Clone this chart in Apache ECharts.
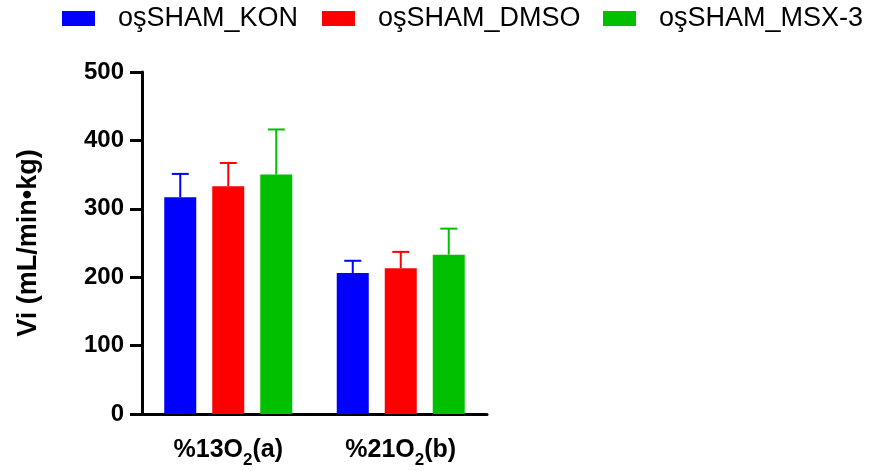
<!DOCTYPE html>
<html>
<head>
<meta charset="utf-8">
<script src="https://cdn.jsdelivr.net/npm/echarts@6/dist/echarts.min.js"></script>
<style>
html, body { margin: 0; padding: 0; background: #fff; }
#main { width: 872px; height: 471px; }
</style>
</head>
<body>
<div id="main"></div>
<script>
var categories = ['%13O2(a)', '%21O2(b)'];
var seriesNames = ['oşSHAM_KON', 'oşSHAM_DMSO', 'oşSHAM_MSX-3'];
var konMean = [317, 206];
var konErr = [34, 18];
var dmsoMean = [333, 213];
var dmsoErr = [34, 24];
var msxMean = [350, 233];
var msxErr = [66, 38];
var yTicks = [0, 100, 200, 300, 400, 500];

var colors = ['#0000ff', '#ff0000', '#00c000'];
var means = [konMean, dmsoMean, msxMean];
var errs = [konErr, dmsoErr, msxErr];
var font = 'Liberation Sans';

var chart = echarts.init(document.getElementById('main'));

// error bar (upper only), shifted to sit on its bar
function errorRender(k) {
	return function (params, api) {
		var idx = api.value(0);
		var top = api.coord([idx, api.value(2)]);
		var base = api.coord([idx, api.value(1)]);
		var x = top[0] + (k - 1) * 48;
		var style = { stroke: colors[k], lineWidth: 2 };
		return {
			type: 'group',
			children: [
				{ type: 'line', shape: { x1: x, y1: base[1], x2: x, y2: top[1] }, style: style },
				{ type: 'line', shape: { x1: x - 8.5, y1: top[1], x2: x + 8.5, y2: top[1] }, style: style }
			]
		};
	};
}

var series = [];
for (var k = 0; k < 3; k++) {
	series.push({
		name: seriesNames[k],
		type: 'bar',
		data: means[k],
		barWidth: 32,
		barGap: '50%',
		itemStyle: { color: colors[k] },
		z: 2
	});
}
for (var k = 0; k < 3; k++) {
	var d = [];
	for (var i = 0; i < categories.length; i++) {
		d.push([i, means[k][i], means[k][i] + errs[k][i]]);
	}
	series.push({
		name: 'err' + k,
		type: 'custom',
		renderItem: errorRender(k),
		data: d,
		encode: { x: 0, y: 2 },
		z: 3,
		silent: true
	});
}

var legends = [];
var legendLeft = [57, 317, 598];
for (var k = 0; k < 3; k++) {
	legends.push({
		data: [seriesNames[k]],
		left: legendLeft[k],
		top: 0,
		itemWidth: 33,
		itemHeight: 15,
		icon: 'rect',
		selectedMode: false,
		textStyle: { fontFamily: font, fontSize: 27, color: '#000', padding: [8, 0, 0, 18] }
	});
}

var option = {
	animation: false,
	backgroundColor: '#fff',
	legend: legends,
	grid: { left: 142, right: 385, top: 72, bottom: 57, containLabel: false },
	xAxis: {
		type: 'category',
		data: categories,
		axisLine: { lineStyle: { color: '#000', width: 3 } },
		axisTick: { alignWithLabel: true, length: 13, lineStyle: { width: 3, color: '#000' } },
		axisLabel: {
			margin: 24,
			formatter: function (v) {
				var m = v.match(/^(.*O)2(.*)$/);
				return '{a|' + m[1] + '}{s|2}{a|' + m[2] + '}';
			},
			rich: {
				a: { fontFamily: font, fontWeight: 'bold', fontSize: 25, color: '#000', verticalAlign: 'bottom', padding: [0, 0, 6, 0] },
				s: { fontFamily: font, fontWeight: 'bold', fontSize: 17, color: '#000', verticalAlign: 'bottom' }
			}
		}
	},
	yAxis: {
		type: 'value',
		min: yTicks[0],
		max: yTicks[yTicks.length - 1],
		interval: 100,
		name: 'Vi (mL/min•kg)',
		nameLocation: 'middle',
		nameGap: 100,
		nameTextStyle: { fontFamily: font, fontWeight: 'bold', fontSize: 27, color: '#000' },
		splitLine: { show: false },
		axisLine: { show: true, lineStyle: { color: '#000', width: 3 } },
		axisTick: { show: true, length: 12, lineStyle: { width: 3, color: '#000' } },
		axisLabel: { margin: 18, fontFamily: font, fontWeight: 'bold', fontSize: 24, color: '#000' }
	},
	series: series
};

chart.setOption(option);
</script>
</body>
</html>
